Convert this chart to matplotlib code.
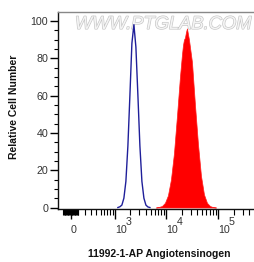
import numpy as np
import matplotlib
matplotlib.use("Agg")
import matplotlib.pyplot as plt
from matplotlib import patheffects as pe
from matplotlib.transforms import offset_copy

# ---------------- data ----------------
blue_x = [1148, 1258, 1378, 1509, 1652, 1808, 1979, 2165, 2368, 2590, 2834,
          3098, 3388, 3705, 4052, 4430, 4843]
blue_y = [0.0, 0.4, 1.3, 5, 14, 33, 60, 88, 98, 86, 60, 33, 14, 5, 1.3, 0.3, 0.0]

red_x = [6333, 7237, 8273, 9454, 10803, 12350, 14117, 16137, 18437, 20161, 21081,
         22044, 23035, 24098, 25191, 26340, 27533, 28783, 31470, 35982, 41113,
         46990, 53715, 61389, 70169, 80185, 91623]
red_y = [0.0, 0.3, 0.8, 2.5, 6.5, 15, 29, 49, 70, 82, 87, 90, 91, 94, 96, 93,
         90, 86, 78, 55, 34, 17, 7, 2.5, 0.8, 0.2, 0.0]

x_major = [0, 1000, 10000, 100000]
x_major_labels = ["0", "10", "10", "10"]
x_major_exp = ["", "3", "4", "5"]
y_major = [0, 20, 40, 60, 80, 100]
xlabel = "11992-1-AP Angiotensinogen"
ylabel = "Relative Cell Number"
watermark = "WWW.PTGLAB.COM"

# ---------------- styling ----------------
plt.rcParams['font.family'] = ['Liberation Sans', 'DejaVu Sans']
W2C = 287.4  # logicle-like width parameter


def fwd(x):
    return np.arcsinh(np.asarray(x, dtype=float) / W2C) / np.log(10)


def inv(u):
    return W2C * np.sinh(np.asarray(u, dtype=float) * np.log(10))


fig = plt.figure(figsize=(2.54, 2.62), dpi=100)
ax = fig.add_axes([58 / 254, 53 / 262, 196 / 254, 197 / 262])
ax.set_xscale('function', functions=(fwd, inv))
ax.set_xlim(-173, 497000)
ax.set_ylim(-0.8, 104.8)

# watermark
ax.text(0.538, 0.937, watermark, transform=ax.transAxes, ha='center', va='center',
        fontsize=13.2, style='italic', color='#f4f4f4', zorder=0.5,
        path_effects=[pe.withStroke(linewidth=0.9, foreground='#c4c4c4')])

# curves
ax.plot(blue_x, blue_y, color='#1f1f9a', lw=1.0, zorder=3)
ax.fill_between(red_x, red_y, 0, facecolor='#ff0000', edgecolor='#ff2020', lw=0.5, zorder=2)

# spines
for s in ['left', 'bottom']:
    ax.spines[s].set_color('#111111')
    ax.spines[s].set_linewidth(1.0)
ax.spines['top'].set_color('#888888')
ax.spines['top'].set_linewidth(1.0)
ax.spines['right'].set_visible(False)

# y ticks
ax.set_yticks(y_major)
ax.set_yticks(np.arange(0, 105, 5), minor=True)
ax.tick_params(axis='y', which='major', direction='out', length=5.5, width=1.0,
               labelsize=7.7, labelcolor='#333333', pad=1.5)
ax.tick_params(axis='y', which='minor', direction='out', length=3, width=0.8)

# x ticks
ax.set_xticks(x_major)
ax.set_xticklabels([])
minor = list(range(-100, 101, 10))
for dec in [100, 1000, 10000, 100000]:
    minor += [m * dec for m in range(2, 10)]
minor = [m for m in minor if m < 497000]
ax.set_xticks(minor, minor=True)
ax.tick_params(axis='x', which='major', direction='out', length=7, width=1.0)
ax.tick_params(axis='x', which='minor', direction='out', length=4.5, width=0.8)

trans = ax.get_xaxis_transform()
trans_exp = offset_copy(trans, fig=fig, x=10.5, y=8, units='dots')
for xv, lab, ex in zip(x_major, x_major_labels, x_major_exp):
    ax.text(xv, -0.122, lab, transform=trans, ha='left', va='baseline',
            fontsize=7.7, color='#333333')
    if ex:
        ax.text(xv, -0.122, ex, transform=trans_exp, ha='left', va='baseline',
                fontsize=7.7, color='#333333')

fig.text(159.5 / 254, 1 - 254 / 262, xlabel, ha='center', va='center',
         fontsize=7.5, fontweight='bold', color='#111111')
fig.text(14 / 254, 1 - 107 / 262, ylabel, ha='center', va='center', rotation=90,
         fontsize=7.5, fontweight='bold', color='#111111')

fig.savefig('out.png', dpi=100)
